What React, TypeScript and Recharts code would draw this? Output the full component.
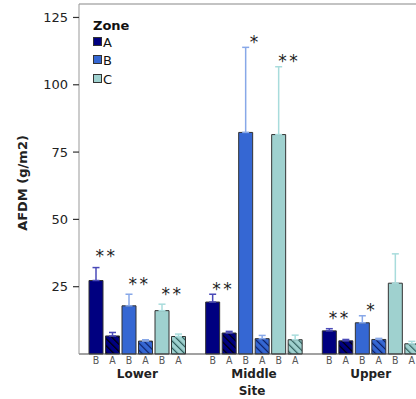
import React from 'react';
import { BarChart, Bar, XAxis, YAxis, ErrorBar, LabelList, ReferenceLine, Legend } from 'recharts';

const sites = ['Lower', 'Middle', 'Upper'];
const zoneNames = ['A', 'B', 'C'];
const zoneColors = ['#000080', '#3567d3', '#9fd1cf'];
const hatchColors = ['#000000', '#0b1f66', '#2e5e5c'];
const errorColors = ['#4a4ab8', '#88a8e8', '#a8dcdc'];
const periodLabels = ['B', 'A'];

const aBefore = [27.3, 19.3, 8.6];
const aBeforeErr = [4.8, 2.9, 0.8];
const aAfter = [6.7, 7.8, 4.9];
const aAfterErr = [1.3, 0.6, 0.5];
const bBefore = [17.9, 82.3, 11.6];
const bBeforeErr = [4.3, 31.6, 2.6];
const bAfter = [4.8, 5.7, 5.4];
const bAfterErr = [0.5, 1.2, 0.4];
const cBefore = [16.1, 81.5, 26.3];
const cBeforeErr = [2.4, 25.2, 10.9];
const cAfter = [6.5, 5.3, 3.8];
const cAfterErr = [0.9, 1.7, 0.9];

const aStars = ['**', '**', '**'];
const aStarPos = [37.6, 25.3, 14.6];
const bStars = ['**', '*', '*'];
const bStarPos = [27.3, 117.1, 17.5];
const cStars = ['**', '**', ''];
const cStarPos = [23.4, 110.1, 0];

const yTicks = [25, 50, 75, 100, 125];
const yDomain = [0, 130];

const before = [aBefore, bBefore, cBefore];
const beforeErr = [aBeforeErr, bBeforeErr, cBeforeErr];
const after = [aAfter, bAfter, cAfter];
const afterErr = [aAfterErr, bAfterErr, cAfterErr];
const stars = [aStars, bStars, cStars];
const starPos = [aStarPos, bStarPos, cStarPos];

const data = sites.map((site, i) => {
  const row: any = { site };
  for (let z = 0; z < 3; z++) {
    row[`b${z}`] = before[z][i];
    row[`be${z}`] = [0, beforeErr[z][i]];
    row[`a${z}`] = after[z][i];
    row[`ae${z}`] = [0, afterErr[z][i]];
  }
  return row;
});

const BAR_GAP = 2.5;

const makeStarLabel = (z: number) => (props: any) => {
  const { x, y, width, height, index } = props;
  const s = stars[z][index];
  if (!s) return null;
  const v = before[z][index];
  const base = Number(y) + Number(height);
  const ppu = Number(height) / v;
  const cy = base - starPos[z][index] * ppu;
  const ls = s.length > 1 ? 2.5 : 0;
  const cx = Number(x) + Number(width) + BAR_GAP / 2 + (s.length > 1 ? 1 + ls / 2 : 0);
  return (
    <text x={cx} y={cy + 9.3} textAnchor="middle" fontSize={17} letterSpacing={ls} fill="#222" fontFamily="DejaVu Sans">
      {s}
    </text>
  );
};

const makePeriodLabel = (p: number) => (props: any) => {
  const { x, y, width, height } = props;
  return (
    <text
      x={Number(x) + Number(width) / 2}
      y={Number(y) + Number(height) + 10}
      textAnchor="middle"
      fontSize={10.5}
      fill="#555"
      fontFamily="'Liberation Sans Narrow', 'DejaVu Sans Condensed', 'DejaVu Sans'"
    >
      {periodLabels[p]}
    </text>
  );
};

const SiteTick = (props: any) => {
  const { x, y, payload } = props;
  return (
    <text x={x} y={y + 23.5} textAnchor="middle" fontSize={12} fontWeight="bold" fill="#222" fontFamily="DejaVu Sans">
      {payload.value}
    </text>
  );
};

const renderLegend = () => (
  <div style={{ fontFamily: 'DejaVu Sans', color: '#111' }}>
    <div style={{ fontSize: 13, fontWeight: 'bold', lineHeight: '15px', height: 15, marginBottom: 0.7 }}>Zone</div>
    {zoneNames.map((n, i) => (
      <div key={n} style={{ display: 'flex', alignItems: 'center', height: 18.5, fontSize: 13, lineHeight: '18.5px' }}>
        <div
          style={{
            width: 7,
            height: 7,
            background: zoneColors[i],
            border: '1px solid #333',
            marginRight: 1,
            marginTop: -3,
          }}
        />
        <span>{n}</span>
      </div>
    ))}
  </div>
);

export default function App() {
  return (
    <div style={{ position: 'fixed', left: 0, top: 0, width: 416, height: 399, overflow: 'hidden', background: '#fff' }}>
      <BarChart
        width={429}
        height={399}
        data={data}
        margin={{ top: 4, right: 0, left: 0, bottom: 0 }}
        barGap={BAR_GAP}
        barSize={14}
        style={{ fontFamily: 'DejaVu Sans' }}
      >
        <defs>
          {zoneColors.map((c, i) => (
            <pattern
              key={i}
              id={`hatch${i}`}
              patternUnits="userSpaceOnUse"
              width={5}
              height={5}
              patternTransform="rotate(-45)"
            >
              <rect width={5} height={5} fill={c} />
              <line x1={0} y1={0} x2={0} y2={5} stroke={hatchColors[i]} strokeWidth={2.4} />
            </pattern>
          ))}
        </defs>
        <XAxis
          dataKey="site"
          height={45}
          tickSize={0}
          tickMargin={0}
          tickLine={false}
          axisLine={{ stroke: '#444', strokeWidth: 1.2 }}
          tick={<SiteTick />}
          interval={0}
          label={(p: any) => {
            const vb = p.viewBox || {};
            return (
              <text x={vb.x + vb.width / 2 - 2} y={394.5} textAnchor="middle" fontSize={12} fontWeight="bold" fill="#222" fontFamily="DejaVu Sans">
                Site
              </text>
            );
          }}
        />
        <YAxis
          width={79}
          domain={yDomain}
          ticks={yTicks}
          interval={0}
          tickSize={6}
          tickMargin={5}
          axisLine={{ stroke: '#999' }}
          tickLine={{ stroke: '#333', strokeWidth: 1.2 }}
          tick={{ fontSize: 13, fill: '#222', fontFamily: 'DejaVu Sans' }}
          label={() => (
            <text
              x={27}
              y={183}
              transform="rotate(-90, 27, 183)"
              textAnchor="middle"
              fontSize={13}
              fontWeight="bold"
              fill="#222"
              fontFamily="DejaVu Sans"
            >
              AFDM (g/m2)
            </text>
          )}
        />
        <ReferenceLine y={130} stroke="#888" strokeWidth={1.2} />
        <Legend
          layout="vertical"
          align="center"
          verticalAlign="middle"
          content={renderLegend}
          wrapperStyle={{ position: 'absolute', left: 93, top: 18, width: 'auto', height: 'auto' }}
        />
        {[0, 1, 2].flatMap((z) => [
          <Bar key={`b${z}`} dataKey={`b${z}`} fill={zoneColors[z]} stroke="#333" strokeWidth={1} isAnimationActive={false}>
            <ErrorBar dataKey={`be${z}`} width={3.5} stroke={errorColors[z]} strokeWidth={1.5} direction="y" />
            <LabelList dataKey={`b${z}`} content={makePeriodLabel(0)} />
            <LabelList dataKey={`b${z}`} content={makeStarLabel(z)} />
          </Bar>,
          <Bar key={`a${z}`} dataKey={`a${z}`} fill={`url(#hatch${z})`} stroke="#333" strokeWidth={1} isAnimationActive={false}>
            <ErrorBar dataKey={`ae${z}`} width={3.5} stroke={errorColors[z]} strokeWidth={1.5} direction="y" />
            <LabelList dataKey={`a${z}`} content={makePeriodLabel(1)} />
          </Bar>,
        ])}
      </BarChart>
    </div>
  );
}
